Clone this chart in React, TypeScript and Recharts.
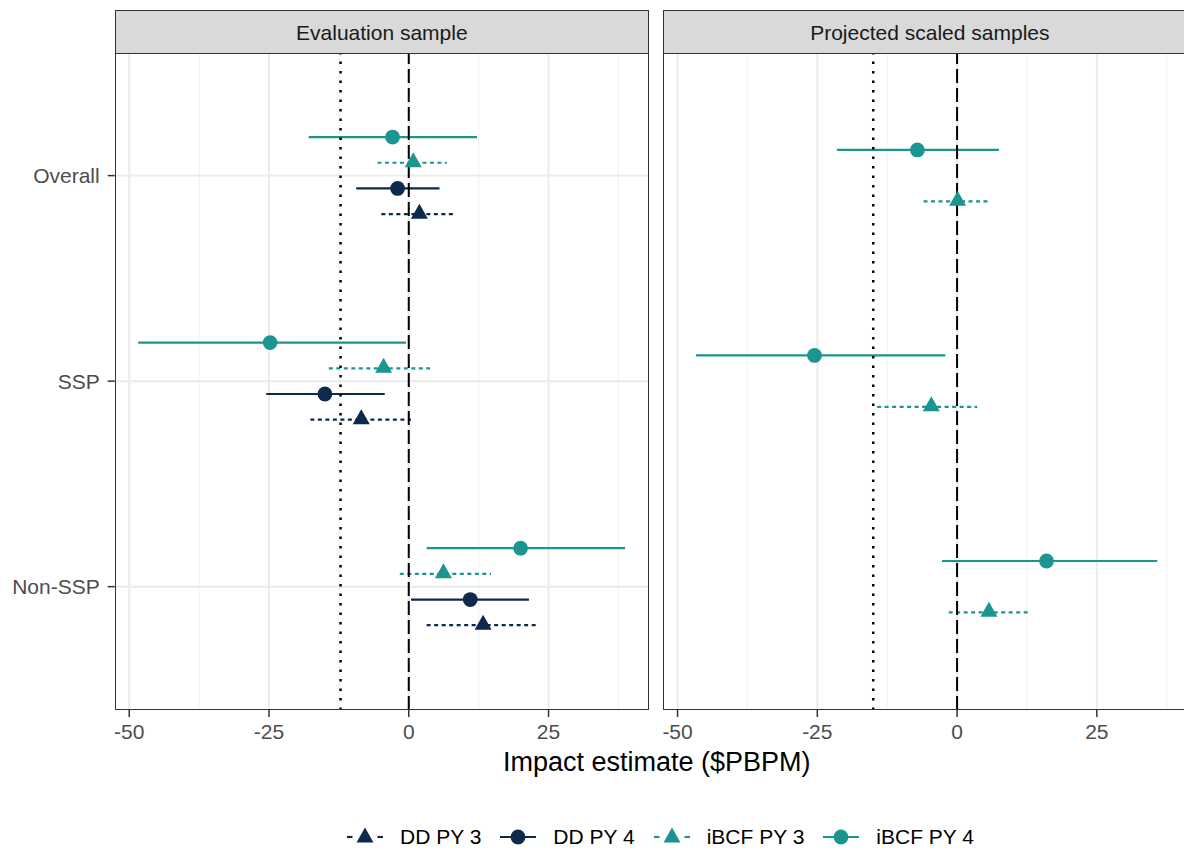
import React from 'react';
import { ScatterChart, Scatter, XAxis, YAxis, CartesianGrid, ReferenceLine } from 'recharts';

const categories = ['Overall', 'SSP', 'Non-SSP'];
const xTicks = [-50, -25, 0, 25];
const xMinorTicks = [-37.5, -12.5, 12.5, 37.5];
const yTicks = [1, 2, 3];

// Evaluation sample
const evalDdPy3Est = [1.9, -8.5, 13.3];
const evalDdPy3Lo = [-4.9, -17.6, 3.2];
const evalDdPy3Hi = [7.9, 0.4, 22.8];
const evalDdPy4Est = [-2.0, -15.0, 11.0];
const evalDdPy4Lo = [-9.4, -25.5, 0.4];
const evalDdPy4Hi = [5.5, -4.3, 21.5];
const evalIbcfPy3Est = [0.8, -4.5, 6.2];
const evalIbcfPy3Lo = [-5.6, -14.3, -1.6];
const evalIbcfPy3Hi = [6.8, 3.8, 14.7];
const evalIbcfPy4Est = [-2.9, -24.8, 20.0];
const evalIbcfPy4Lo = [-17.9, -48.4, 3.2];
const evalIbcfPy4Hi = [12.2, -0.5, 38.7];
const evalThreshold = -12.2;

// Projected scaled samples
const projIbcfPy3Est = [0.1, -4.6, 5.7];
const projIbcfPy3Lo = [-6.0, -14.3, -1.5];
const projIbcfPy3Hi = [6.0, 3.6, 13.1];
const projIbcfPy4Est = [-7.1, -25.5, 16.0];
const projIbcfPy4Lo = [-21.5, -46.7, -2.7];
const projIbcfPy4Hi = [7.5, -2.1, 35.8];
const projThreshold = -15.0;

const NAVY = '#0D2A4D';
const TEAL = '#1A9590';
const FONT = '"Liberation Sans", Arial, sans-serif';

const seriesStyle: Record<string, { color: string; shape: 'triangle' | 'circle'; dashed: boolean }> = {
  'DD PY 3': { color: NAVY, shape: 'triangle', dashed: true },
  'DD PY 4': { color: NAVY, shape: 'circle', dashed: false },
  'iBCF PY 3': { color: TEAL, shape: 'triangle', dashed: true },
  'iBCF PY 4': { color: TEAL, shape: 'circle', dashed: false },
};
const legendOrder = ['DD PY 3', 'DD PY 4', 'iBCF PY 3', 'iBCF PY 4'];

type Series = { name: string; est: number[]; lo: number[]; hi: number[] };

// top-to-bottom order inside each category
const panels: { title: string; threshold: number; series: Series[] }[] = [
  {
    title: 'Evaluation sample',
    threshold: evalThreshold,
    series: [
      { name: 'iBCF PY 4', est: evalIbcfPy4Est, lo: evalIbcfPy4Lo, hi: evalIbcfPy4Hi },
      { name: 'iBCF PY 3', est: evalIbcfPy3Est, lo: evalIbcfPy3Lo, hi: evalIbcfPy3Hi },
      { name: 'DD PY 4', est: evalDdPy4Est, lo: evalDdPy4Lo, hi: evalDdPy4Hi },
      { name: 'DD PY 3', est: evalDdPy3Est, lo: evalDdPy3Lo, hi: evalDdPy3Hi },
    ],
  },
  {
    title: 'Projected scaled samples',
    threshold: projThreshold,
    series: [
      { name: 'iBCF PY 4', est: projIbcfPy4Est, lo: projIbcfPy4Lo, hi: projIbcfPy4Hi },
      { name: 'iBCF PY 3', est: projIbcfPy3Est, lo: projIbcfPy3Lo, hi: projIbcfPy3Hi },
    ],
  },
];

const DODGE = 0.5;
const X_DOMAIN: [number, number] = [-52.6, 42.97];
const PLOT_W = 534.3;
const PLOT_TOP = 52.3;
const PLOT_H = 657.7;
const X_AXIS_H = 70;
const Y_AXIS_W = 114.7;
const STRIP_TOP = 9.7;

const triangle = (cx: number, cy: number, color: string) => (
  <polygon points={`${cx},${cy - 10.5} ${cx - 8.5},${cy + 4.5} ${cx + 8.5},${cy + 4.5}`} fill={color} />
);

const Marker = ({ cx, cy, shape, color }: any) =>
  shape === 'triangle' ? triangle(cx, cy, color) : <circle cx={cx} cy={cy} r={7.4} fill={color} />;

function Panel({ title, threshold, series, left, showY }: any) {
  const n = series.length;
  const rows = series.map((s: Series, i: number) =>
    categories.map((c, k) => ({
      cat: c,
      pos: k + 1 + (i - (n - 1) / 2) * (DODGE / n),
      est: s.est[k],
      lo: s.lo[k],
      hi: s.hi[k],
    }))
  );
  const yW = showY ? Y_AXIS_W : 0;
  const tickStyle = { fill: '#4D4D4D', fontSize: 21, fontFamily: FONT };

  return (
    <div style={{ position: 'absolute', left, top: 0 }}>
      <ScatterChart
        width={yW + PLOT_W}
        height={PLOT_TOP + PLOT_H + X_AXIS_H}
        margin={{ top: PLOT_TOP, right: 0, bottom: 0, left: 0 }}
      >
        <CartesianGrid horizontal={false} verticalValues={xMinorTicks} stroke="#F2F2F2" strokeWidth={1.2} />
        <CartesianGrid verticalValues={xTicks} horizontalValues={yTicks} stroke="#EBEBEB" strokeWidth={2} />
        <XAxis
          type="number"
          dataKey="est"
          domain={X_DOMAIN}
          ticks={xTicks}
          allowDataOverflow
          height={X_AXIS_H}
          axisLine={false}
          tickLine={{ stroke: '#333333', strokeWidth: 1.5 }}
          tickSize={7}
          tickMargin={7}
          tick={tickStyle}
        />
        <YAxis
          type="number"
          dataKey="pos"
          domain={[0.4, 3.6]}
          ticks={yTicks}
          reversed
          allowDataOverflow
          width={yW}
          axisLine={false}
          tickLine={showY ? { stroke: '#333333', strokeWidth: 1.5 } : false}
          tickSize={7}
          tickMargin={8}
          tick={showY ? tickStyle : false}
          tickFormatter={(v: number) => categories[v - 1]}
        />
        {series.map((s: Series, i: number) =>
          rows[i].map((r: any) => (
            <ReferenceLine
              key={`${s.name}-${r.cat}`}
              segment={[{ x: r.lo, y: r.pos }, { x: r.hi, y: r.pos }]}
              stroke={seriesStyle[s.name].color}
              strokeWidth={2.2}
              strokeDasharray={seriesStyle[s.name].dashed ? '4 3.5' : undefined}
            />
          ))
        )}
        {series.map((s: Series, i: number) => (
          <Scatter
            key={s.name}
            name={s.name}
            data={rows[i]}
            isAnimationActive={false}
            shape={(p: any) => (
              <Marker cx={p.cx} cy={p.cy} shape={seriesStyle[s.name].shape} color={seriesStyle[s.name].color} />
            )}
          />
        ))}
        <ReferenceLine x={threshold} stroke="#000000" strokeWidth={2.5} strokeDasharray="2.5 7" />
        <ReferenceLine x={0} stroke="#000000" strokeWidth={2} strokeDasharray="14 5" />
      </ScatterChart>
      <div
        style={{
          position: 'absolute',
          left: yW,
          top: PLOT_TOP,
          width: PLOT_W,
          height: PLOT_H,
          border: '1.5px solid #333333',
          boxSizing: 'border-box',
          pointerEvents: 'none',
        }}
      />
      <div
        style={{
          position: 'absolute',
          left: yW,
          top: STRIP_TOP,
          width: PLOT_W,
          height: PLOT_TOP - STRIP_TOP + 1.5,
          background: '#D9D9D9',
          border: '1.5px solid #333333',
          boxSizing: 'border-box',
          display: 'flex',
          alignItems: 'center',
          justifyContent: 'center',
          paddingTop: 3,
          fontSize: 21,
          color: '#1A1A1A',
          fontFamily: FONT,
        }}
      >
        {title}
      </div>
    </div>
  );
}

const LegendKey = ({ name }: { name: string }) => {
  const st = seriesStyle[name];
  return (
    <svg width={36} height={22} style={{ display: 'block' }}>
      {st.dashed ? (
        <>
          <line x1={0} y1={11} x2={5.5} y2={11} stroke={st.color} strokeWidth={2.2} />
          <line x1={30.5} y1={11} x2={36} y2={11} stroke={st.color} strokeWidth={2.2} />
        </>
      ) : (
        <line x1={0} y1={11} x2={36} y2={11} stroke={st.color} strokeWidth={2.2} />
      )}
      {st.shape === 'triangle' ? triangle(18, 12, st.color) : <circle cx={18} cy={11} r={7.4} fill={st.color} />}
    </svg>
  );
};

export default function App() {
  return (
    <div
      style={{
        position: 'absolute',
        left: 0,
        top: 0,
        width: 1184,
        height: 849,
        overflow: 'hidden',
        background: '#FFFFFF',
        fontFamily: FONT,
      }}
    >
      <Panel {...panels[0]} left={0} showY />
      <Panel {...panels[1]} left={662.7} showY={false} />
      <div
        style={{
          position: 'absolute',
          left: 400,
          top: 749,
          width: 513.4,
          textAlign: 'center',
          fontSize: 27,
          lineHeight: '27px',
          color: '#000000',
        }}
      >
        Impact estimate ($PBPM)
      </div>
      <div
        style={{
          position: 'absolute',
          left: 347,
          top: 826,
          height: 21,
          display: 'flex',
          alignItems: 'center',
          fontSize: 21,
          lineHeight: '21px',
          color: '#000000',
          whiteSpace: 'nowrap',
        }}
      >
        {legendOrder.map((name) => (
          <div key={name} style={{ display: 'flex', alignItems: 'center', marginRight: 19 }}>
            <LegendKey name={name} />
            <span style={{ marginLeft: 17 }}>{name}</span>
          </div>
        ))}
      </div>
    </div>
  );
}
